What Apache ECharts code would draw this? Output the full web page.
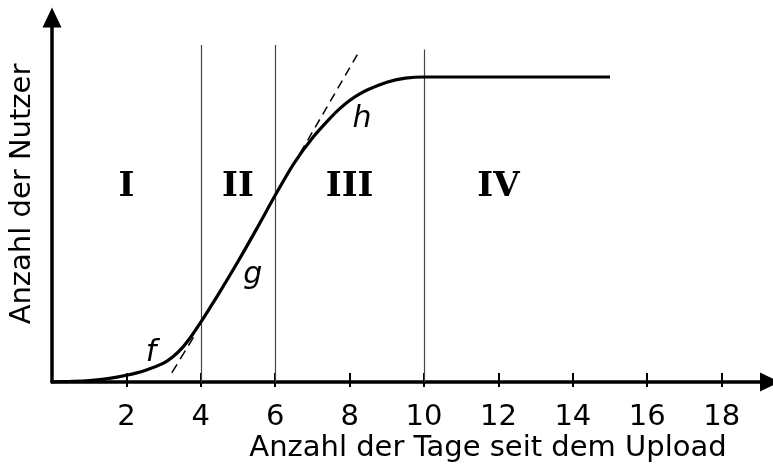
<!DOCTYPE html>
<html>
<head>
<meta charset="utf-8">
<script src="https://cdn.jsdelivr.net/npm/echarts@6/dist/echarts.min.js"></script>
<style>
  html, body { margin: 0; padding: 0; background: #fff; }
  #chart { width: 773px; height: 473px; }
</style>
</head>
<body>
<div id="chart"></div>
<script>
// days since upload and users (plateau = 100)
const days = [0, 0.5, 1, 1.5, 2, 2.5, 3, 3.25, 3.5, 3.75, 4, 4.25, 4.5, 5, 5.5, 6, 6.5, 7, 7.5, 7.75, 8, 8.25, 8.5, 9, 9.5, 10, 15]
const users = [0, 0.2, 0.5, 1.1, 2.2, 3.8, 6.2, 8.3, 11.2, 15.1, 19.6, 24.4, 29.3, 39.5, 50.2, 61.2, 71.6, 80, 86.8, 89.8, 92.3, 94.3, 95.9, 98.3, 99.6, 100, 100]

const xTicks = [2, 4, 6, 8, 10, 12, 14, 16, 18]

// phase borders (day, top of line)
const borderDays = [4, 6, 10]
const borderTops = [110.5, 110.5, 109]

// tangents
const tangentF = [[3.22, 3.0], [3.8, 14.6]]
const tangentH = [[6.67, 75], [8.23, 107.8]]

// phase names and function names
const phaseNames = ['I', 'II', 'III', 'IV']
const phaseX = [2, 5, 8, 12]
const phaseY = [64, 64, 64, 64]
const funcNames = ['f', 'g', 'h']
const funcX = [2.66, 5.4, 8.33]
const funcY = [9.5, 35, 86]

const chart = echarts.init(document.getElementById('chart'))

const xBase = { type: 'value', min: 0, max: 19.3, interval: 2, splitLine: { show: false } }

chart.setOption({
  animation: false,
  grid: { left: 52, right: 3, top: 17.5, bottom: 91 },
  xAxis: [
    {
      ...xBase,
      axisLine: {
        lineStyle: { color: '#000', width: 3.5 },
        symbol: ['none', 'triangle'],
        symbolSize: [19, 20]
      },
      axisTick: { customValues: xTicks, length: 5, lineStyle: { color: '#000', width: 2 } },
      axisLabel: {
        customValues: xTicks,
        margin: 21,
        fontFamily: 'DejaVu Sans',
        fontSize: 29,
        color: '#000'
      }
    },
    {
      ...xBase,
      position: 'bottom',
      axisLine: { show: false },
      axisTick: { customValues: xTicks, inside: true, length: 9, lineStyle: { color: '#000', width: 2 } },
      axisLabel: { show: false }
    }
  ],
  yAxis: {
    type: 'value',
    min: 0,
    max: 119.5,
    splitLine: { show: false },
    axisTick: { show: false },
    axisLabel: { show: false },
    axisLine: {
      show: true,
      lineStyle: { color: '#000', width: 3.5 },
      symbol: ['none', 'triangle'],
      symbolSize: [19, 20]
    }
  },
  graphic: [
    {
      type: 'text',
      x: 488,
      y: 448,
      style: {
        text: 'Anzahl der Tage seit dem Upload',
        font: '29px "DejaVu Sans"',
        fill: '#000',
        align: 'center',
        verticalAlign: 'middle'
      }
    },
    {
      type: 'text',
      x: 22,
      y: 194,
      rotation: Math.PI / 2,
      style: {
        text: 'Anzahl der Nutzer',
        font: '29px "DejaVu Sans"',
        fill: '#000',
        align: 'center',
        verticalAlign: 'middle'
      }
    }
  ],
  series: [
    {
      type: 'line',
      data: days.map((d, i) => [d, users[i]]),
      smooth: 0.3,
      symbol: 'none',
      lineStyle: { color: '#000', width: 3.2 },
      z: 5,
      markLine: {
        silent: true,
        symbol: 'none',
        label: { show: false },
        lineStyle: { color: '#444', width: 1.2, type: 'solid' },
        data: borderDays.map((d, i) => [{ coord: [d, 0] }, { coord: [d, borderTops[i]] }])
      }
    },
    {
      type: 'line',
      data: tangentF,
      symbol: 'none',
      lineStyle: { color: '#000', width: 1.5, type: [10, 6] }
    },
    {
      type: 'line',
      data: tangentH,
      symbol: 'none',
      lineStyle: { color: '#000', width: 1.5, type: [9, 6] }
    },
    {
      type: 'scatter',
      symbolSize: 0,
      itemStyle: { opacity: 1 },
      data: phaseNames.map((t, i) => [phaseX[i], phaseY[i], t]),
      label: {
        show: true,
        position: 'inside',
        formatter: p => p.value[2],
        fontFamily: 'DejaVu Serif',
        fontWeight: 'bold',
        fontSize: 34,
        color: '#000',
        opacity: 1
      }
    },
    {
      type: 'scatter',
      symbolSize: 0,
      itemStyle: { opacity: 1 },
      data: funcNames.map((t, i) => [funcX[i], funcY[i], t]),
      label: {
        show: true,
        position: 'inside',
        formatter: p => p.value[2],
        fontFamily: 'DejaVu Sans',
        fontStyle: 'italic',
        fontSize: 30,
        color: '#000',
        opacity: 1
      }
    }
  ]
})
</script>
</body>
</html>
